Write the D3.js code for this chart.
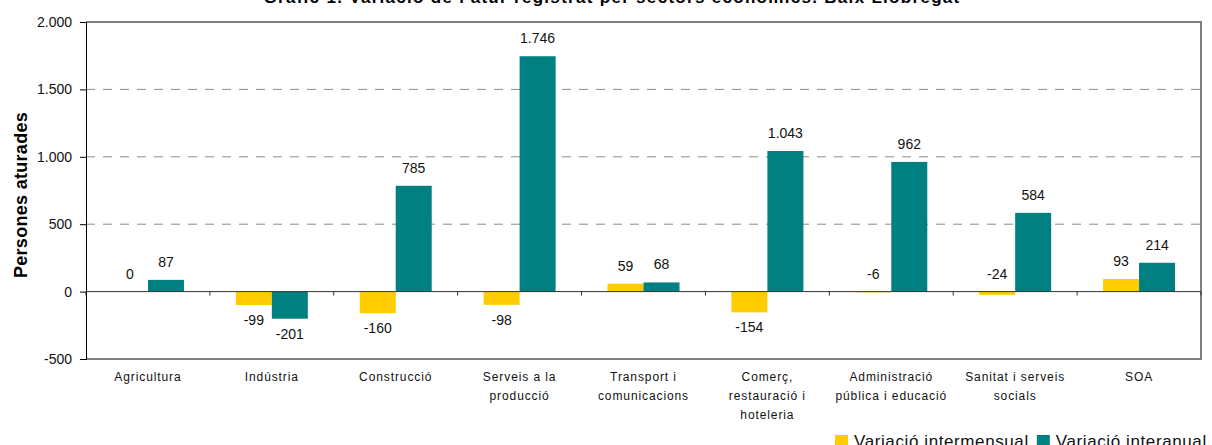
<!DOCTYPE html>
<html>
<head>
<meta charset="utf-8">
<script src="https://cdn.jsdelivr.net/npm/d3@7"></script>
<style>
  body { margin: 0; background: #fff; }
  svg { display: block; font-family: "Liberation Sans", Arial, sans-serif; }
</style>
</head>
<body>
<svg id="chart" width="1212" height="445"></svg>
<script>
var categories = [
  ["Agricultura"],
  ["Indústria"],
  ["Construcció"],
  ["Serveis a la", "producció"],
  ["Transport i", "comunicacions"],
  ["Comerç,", "restauració i", "hoteleria"],
  ["Administració", "pública i educació"],
  ["Sanitat i serveis", "socials"],
  ["SOA"]
];
var intermensual = [0, -99, -160, -98, 59, -154, -6, -24, 93];
var interanual = [87, -201, 785, 1746, 68, 1043, 962, 584, 214];
var seriesNames = ["Variació intermensual", "Variació interanual"];
var yTicks = [-500, 0, 500, 1000, 1500, 2000];
var title = "Gràfic 1. Variació de l'atur registrat per sectors econòmics. Baix Llobregat";
var yTitle = "Persones aturades";

var colors = ["#FFCC00", "#008080"];
var fmt = d3.formatLocale({decimal: ",", thousands: ".", grouping: [3], currency: ["", "€"], minus: "-"}).format(",d");

var svg = d3.select("#chart");
var plotLeft = 86, plotRight = 1201, plotTop = 22, plotBottom = 359;

var x = d3.scaleBand().domain(d3.range(categories.length)).range([plotLeft, plotRight]);
var sub = d3.scaleBand().domain([0, 1]).range([0, 72]);
var y = d3.scaleLinear().domain([-500, 2000]).range([plotBottom, plotTop]);

// title (cut off at the top)
svg.append("text")
  .attr("x", 612).attr("y", 3)
  .attr("text-anchor", "middle")
  .style("font-weight", "bold").style("font-size", "17px").style("letter-spacing", "1.3px")
  .text(title);

// grid
svg.append("g").selectAll("line")
  .data(yTicks.filter(function(d) { return d > 0 && d < 2000; }))
  .enter().append("line")
  .attr("x1", plotLeft).attr("x2", plotRight)
  .attr("y1", function(d) { return y(d); }).attr("y2", function(d) { return y(d); })
  .attr("stroke", "#8a8a8a").attr("stroke-dasharray", "9,8");

// frame top / right / bottom
svg.append("path")
  .attr("d", "M" + plotLeft + "," + plotTop + "H" + plotRight + "V" + plotBottom + "H" + plotLeft)
  .attr("fill", "none").attr("stroke", "#808080").attr("stroke-width", 2);

// bars
var series = [intermensual, interanual];
series.forEach(function(vals, s) {
  svg.append("g").selectAll("rect")
    .data(vals)
    .enter().append("rect")
    .attr("x", function(d, i) { return x(i) + (x.bandwidth() - 72) / 2 + sub(s); })
    .attr("width", sub.bandwidth())
    .attr("y", function(d) { return y(Math.max(0, d)); })
    .attr("height", function(d) { return Math.abs(y(d) - y(0)); })
    .attr("fill", colors[s]);
});

// value labels
series.forEach(function(vals, s) {
  svg.append("g").selectAll("text")
    .data(vals)
    .enter().append("text")
    .attr("x", function(d, i) { return x(i) + (x.bandwidth() - 72) / 2 + sub(s) + sub.bandwidth() / 2; })
    .attr("y", function(d) {
      if (d >= -30) return y(Math.max(0, d)) - 13;
      return y(d) + 20;
    })
    .attr("text-anchor", "middle")
    .style("font-size", "14px").attr("fill", "#111")
    .text(function(d) { return fmt(d); });
});

// zero line + category ticks
svg.append("line")
  .attr("x1", plotLeft).attr("x2", plotRight)
  .attr("y1", y(0)).attr("y2", y(0))
  .attr("stroke", "#333");
svg.append("g").selectAll("line")
  .data(d3.range(categories.length + 1))
  .enter().append("line")
  .attr("x1", function(d) { return plotLeft + d * x.step(); })
  .attr("x2", function(d) { return plotLeft + d * x.step(); })
  .attr("y1", y(0)).attr("y2", y(0) + 4)
  .attr("stroke", "#333");

// y axis
var yAxis = d3.axisLeft(y).tickValues(yTicks).tickSize(6).tickPadding(8).tickFormat(fmt);
var ya = svg.append("g").attr("transform", "translate(" + plotLeft + ",0)").call(yAxis);
ya.select(".domain").attr("stroke", "#000");
ya.selectAll(".tick line").attr("stroke", "#000");
ya.selectAll(".tick text")
  .style("font-size", "14px").style("font-family", "Liberation Sans, Arial, sans-serif")
  .attr("fill", "#111");

svg.append("text")
  .attr("transform", "translate(27,195) rotate(-90)")
  .attr("text-anchor", "middle")
  .style("font-weight", "bold").style("font-size", "18px").style("letter-spacing", "0.3px")
  .text(yTitle);

// category labels
var cat = svg.append("g").selectAll("text")
  .data(categories)
  .enter().append("text")
  .attr("x", function(d, i) { return x(i) + x.bandwidth() / 2; })
  .attr("y", 381)
  .attr("text-anchor", "middle")
  .style("font-size", "12px").style("letter-spacing", "0.9px")
  .attr("fill", "#111");
cat.selectAll("tspan")
  .data(function(d) { return d; })
  .enter().append("tspan")
  .attr("x", function() { return this.parentNode.getAttribute("x"); })
  .attr("dy", function(d, i) { return i === 0 ? 0 : 19; })
  .text(function(d) { return d; });

// legend
var lx = 835;
seriesNames.forEach(function(name, s) {
  svg.append("rect").attr("x", lx).attr("y", 435).attr("width", 13).attr("height", 13).attr("fill", colors[s]);
  var t = svg.append("text").attr("x", lx + 19).attr("y", 447)
    .style("font-size", "17px").style("letter-spacing", "0.6px").attr("fill", "#111")
    .text(name);
  lx = lx + 19 + t.node().getComputedTextLength() + 8;
});
</script>
</body>
</html>
